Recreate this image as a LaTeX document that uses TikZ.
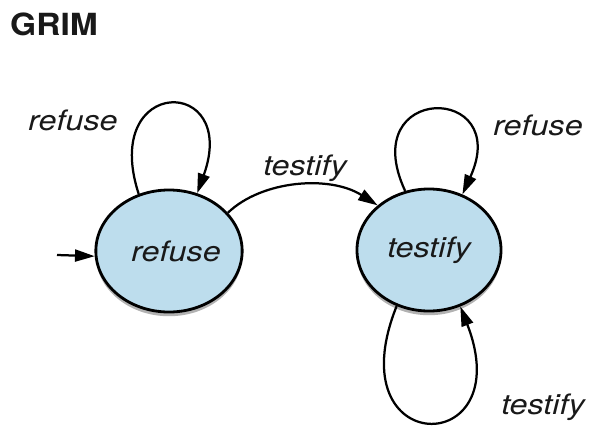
\documentclass[tikz,border=0pt]{standalone}
\usepackage{fontspec}
\usepackage{tikz}
\usetikzlibrary{arrows.meta, shapes.geometric, shadows}
\usepackage{xcolor}

\newfontfamily\labelfont[FakeStretch=1.15]{TeX Gyre Heros}
\newfontfamily\titlefont[FakeStretch=1.1]{TeX Gyre Heros}
\definecolor{stateblue}{RGB}{189,221,237}

\begin{document}
\begin{tikzpicture}[
      x=0.025cm, y=-0.025cm,
      stateball/.style = {
        ellipse, draw=black, fill=stateblue, line width=2pt,
        minimum width=3.6cm, minimum height=3.05cm, inner sep=0pt,
        font=\labelfont\itshape\fontsize{20}{22}\selectfont, text=black!90,
        drop shadow={shadow xshift=0pt, shadow yshift=-3pt, fill=black, opacity=0.3}
      },
      move/.style = {-{Triangle[length=14pt, width=8.5pt]}, line width=1.6pt},
      movelabel/.style = {anchor=base, inner sep=0pt, text=black!90,
        font=\labelfont\itshape\fontsize{20}{22}\selectfont}
    ]

    \useasboundingbox (0,0) rectangle (592,428);

    \node[anchor=base, inner sep=0pt, text=black!90,
      font=\titlefont\bfseries\fontsize{21.7}{24}\selectfont] (grim) at (54,35) {GRIM};

    \node[stateball] (refuse)  at (169,251) {\hspace*{10pt}refuse};
    \node[stateball] (testify) at (429,250) {testify};

    \coordinate (entry) at (57,255);
    \draw[move] (entry) -- (refuse.184);

    \draw[move] (refuse.118) .. controls (100,75) and (240,75) .. (refuse.64);
    \draw[move] (refuse.33) .. controls (262,180) and (330,175) .. (testify.139);
    \draw[move] (testify.112) .. controls (355,83) and (513,83) .. (testify.59);
    \draw[move] (testify.240) .. controls (335,460) and (520,460) .. (testify.299);

    \node[movelabel] (refuseself)  at (73,130)  {refuse};
    \node[movelabel] (refusemove)  at (305,175) {testify};
    \node[movelabel] (testifyrefuse) at (538,135) {refuse};
    \node[movelabel] (testifyself) at (543,414) {testify};

  \end{tikzpicture}
\end{document}
